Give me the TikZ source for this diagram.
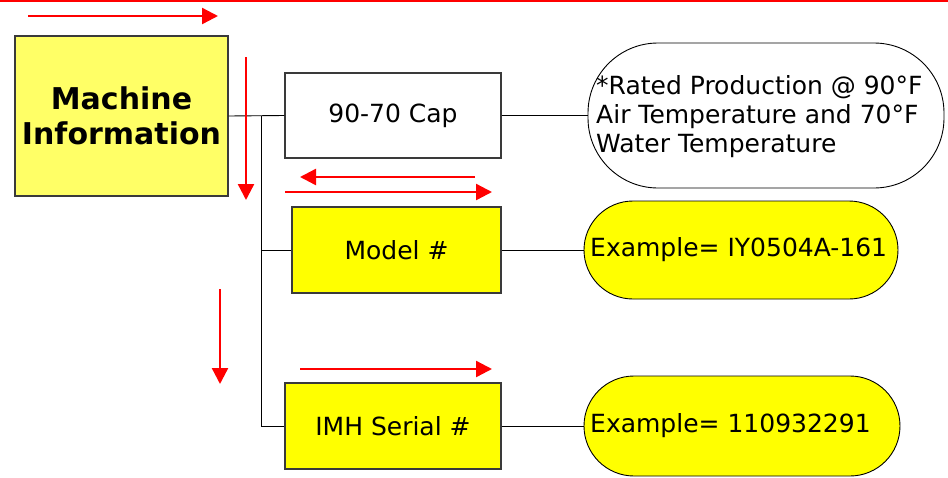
\documentclass[tikz,border=0pt]{standalone}
\usepackage{fontspec}
\setmainfont{DejaVu Sans}
\usetikzlibrary{arrows.meta}
\definecolor{paleyellow}{HTML}{FFFF66}
\definecolor{brightyellow}{HTML}{FFFF00}
\definecolor{edgegray}{HTML}{3A3A3A}
\tikzset{
  infobox/.style={draw=edgegray, line width=1.2pt, minimum width=#1, inner sep=0pt},
  pill/.style={draw=black, line width=0.9pt, inner sep=0pt},
  link/.style={draw=black, line width=0.9pt},
  flow/.style={draw=red, line width=2.4pt, -{Triangle[length=16pt,width=16pt]}},
  boxtext/.style={font=\fontsize{25}{29}\selectfont},
  pilltext/.style={font=\fontsize{25}{29}\selectfont, align=left, anchor=west, inner sep=0pt},
}
\begin{document}
\begin{tikzpicture}[x=1pt, y=-1pt]
  \useasboundingbox (0,0) rectangle (948,477);

  % banner rule along the top edge
  \draw[red, line width=2.6pt] (0,1) -- (948,1);

  % main box and the three attribute boxes
  \node[infobox=213pt, minimum height=160pt, fill=paleyellow, align=center,
        font=\fontsize{30}{35}\selectfont\bfseries] (mi) at (121.5,116) {Machine\\Information};
  \node[infobox=216pt, minimum height=85pt, fill=white, boxtext] (cap) at (393,115.5) {90-70 Cap};
  \node[infobox=209pt, minimum height=86pt, fill=brightyellow, boxtext] (model) at (396.5,250) {Model \#};
  \node[infobox=216pt, minimum height=86pt, fill=brightyellow, boxtext] (imh) at (393,426) {IMH Serial \#};

  % rounded note shapes
  \node[pill, minimum width=356pt, minimum height=145pt, rounded corners=70pt, fill=white] (ex1) at (766,115.5) {};
  \node[pill, minimum width=314pt, minimum height=98pt, rounded corners=49pt, fill=brightyellow] (ex2) at (741,250) {};
  \node[pill, minimum width=316pt, minimum height=100pt, rounded corners=50pt, fill=brightyellow] (ex3) at (742,426) {};

  \node[pilltext] (ex1t) at (596,117) {*Rated Production @ 90°F\\Air Temperature and 70°F\\Water Temperature};
  \node[pilltext] (ex2t) at (590,250) {Example= IY0504A-161};
  \node[pilltext] (ex3t) at (590,426) {Example= 110932291};

  % tree connectors
  \coordinate (trunk) at (261,116);
  \draw[link] (mi.east) -- (cap.west);
  \draw[link] (trunk) |- (imh.west);
  \draw[link] (trunk |- model.west) -- (model.west);
  \draw[link] (cap.east) -- (ex1.west);
  \draw[link] (model.east) -- (ex2.west);
  \draw[link] (imh.east) -- (ex3.west);

  % red direction arrows
  \draw[flow] (28,16) -- (218,16);
  \draw[flow] (246,57) -- (246,200);
  \draw[flow] (475,177) -- (300,177);
  \draw[flow] (285,192) -- (492,192);
  \draw[flow] (220,289) -- (220,384);
  \draw[flow] (300,369) -- (492,369);
\end{tikzpicture}
\end{document}
